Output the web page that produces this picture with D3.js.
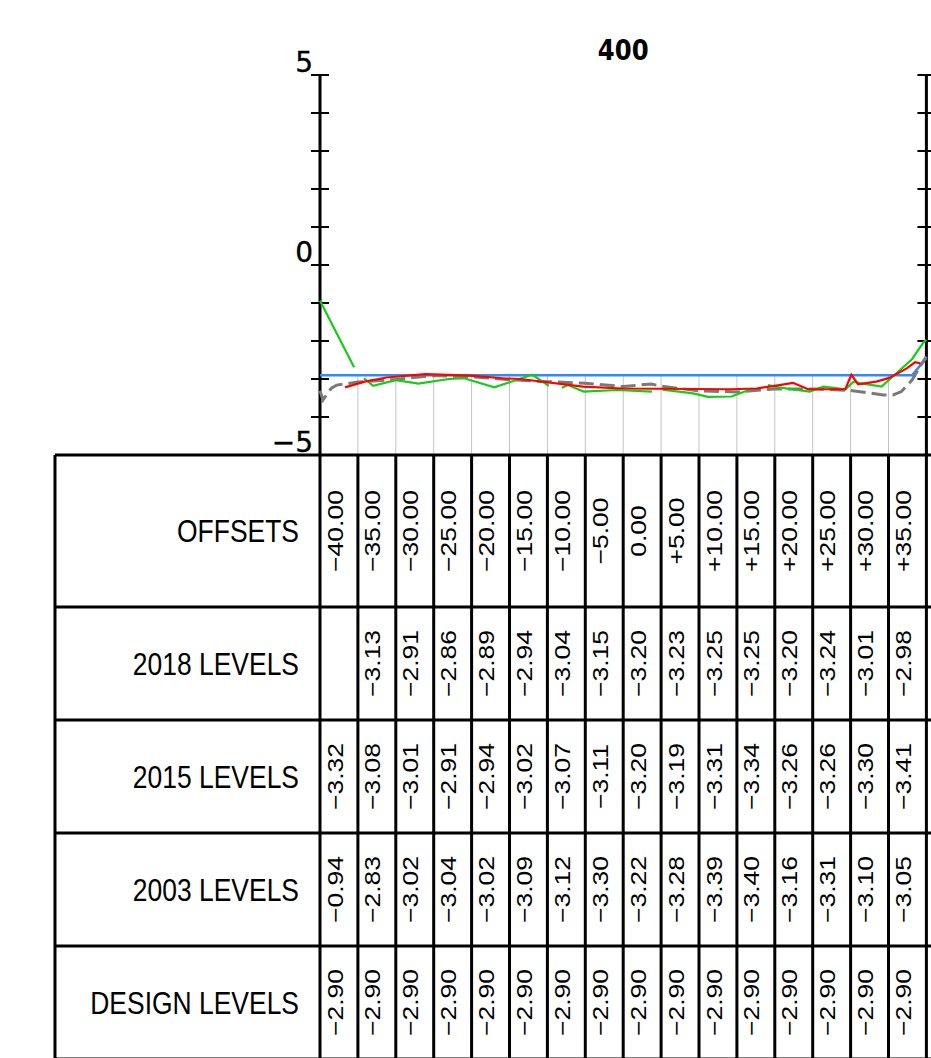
<!DOCTYPE html>
<html>
<head>
<meta charset="utf-8">
<script src="https://cdn.jsdelivr.net/npm/d3@7"></script>
<style>
  html, body { margin: 0; padding: 0; background: #fff; }
  svg { display: block; }
</style>
</head>
<body>
<div id="chart"></div>
<script>
// ---------- DATA ----------
const chainage = "400";
const yTicks = [-5, -4, -3, -2, -1, 0, 1, 2, 3, 4, 5];
const yTickLabels = {"5": "5", "0": "0", "-5": "\u22125"};
const offsets = [-40, -35, -30, -25, -20, -15, -10, -5, 0, 5, 10, 15, 20, 25, 30, 35, 40];
const levels2018 = [null, -3.13, -2.91, -2.86, -2.89, -2.94, -3.04, -3.15, -3.20, -3.23, -3.25, -3.25, -3.20, -3.24, -3.01, -2.98, null];
const levels2015 = [-3.32, -3.08, -3.01, -2.91, -2.94, -3.02, -3.07, -3.11, -3.20, -3.19, -3.31, -3.34, -3.26, -3.26, -3.30, -3.41, -2.41];
const levels2003 = [-0.94, -2.83, -3.02, -3.04, -3.02, -3.09, -3.12, -3.30, -3.22, -3.28, -3.39, -3.40, -3.16, -3.31, -3.10, -3.05, -2.01];
const designLevels = [-2.90, -2.90, -2.90, -2.90, -2.90, -2.90, -2.90, -2.90, -2.90, -2.90, -2.90, -2.90, -2.90, -2.90, -2.90, -2.90, -2.45];
const rowLabels = ["OFFSETS", "2018 LEVELS", "2015 LEVELS", "2003 LEVELS", "DESIGN LEVELS"];

// surveyed profiles [offset, level]; null = gap in survey line
const profileDesign = [[-40, -2.90], [38.1, -2.90], [40, -2.45]];
const profile2015 = [[-40, -3.31], [-39.6, -3.55], [-38.5, -3.24], [-37.8, -3.16], [-35, -3.08], [-30, -3.01], [-25, -2.91], [-20, -2.94], [-15, -3.02], [-10, -3.07], [-5, -3.11], [0, -3.20], [3.7, -3.13], [5, -3.19], [10, -3.31], [15, -3.34], [20, -3.26], [25, -3.26], [30, -3.30], [34.3, -3.42], [35.6, -3.42], [36.7, -3.33], [38.1, -3.03], [39.2, -2.66], [40, -2.41]];
const profile2003 = [[-40, -0.94], [-35.5, -2.69], null, [-34.2, -2.98], [-33.0, -3.18], [-30, -3.03], [-27, -3.12], [-23, -3.00], [-21, -2.98], [-17, -3.22], [-14.3, -3.04], [-12, -2.89], [-9.8, -3.18], null, [-8.1, -3.23], [-7.3, -3.16], [-5.2, -3.33], [-0.8, -3.29], [3.8, -3.33], null, [5.2, -3.28], [9.2, -3.38], [11.2, -3.47], [14.3, -3.46], [17.1, -3.25], null, [19.1, -3.16], [20.5, -3.22], [24.6, -3.33], [26.4, -3.20], [29.3, -3.27], [30.4, -3.07], [31.2, -3.11], [34.1, -3.20], [35.2, -3.00], [38.1, -2.48], [39.6, -2.04], [40, -1.97]];
const profile2018 = [[-36.7, -3.22], [-34.1, -3.07], [-31.2, -2.96], [-26.1, -2.87], [-23.1, -2.89], [-19.6, -2.92], [-16.0, -2.98], [-13.6, -3.00], [-5.3, -3.20], [-0.2, -3.25], [14.1, -3.27], [17.6, -3.25], [20, -3.18], [22.4, -3.10], [24.4, -3.27], [29.3, -3.27], [30.1, -2.89], [31.0, -3.14], [33.4, -3.07], [35.1, -2.97], [37.4, -2.72], [38.5, -2.56], [39.2, -2.59]];

// ---------- LAYOUT ----------
const W = 931, H = 1058;
const tableLeft = 55, tableTop = 455;
const headRowH = 152, rowH = 113;
const xScaleFactor = 0.84;
const tableFont = "'Liberation Sans', Arial, sans-serif";
const axisFont = "'DejaVu Sans', sans-serif";

const svg = d3.select("#chart").append("svg")
  .attr("width", W).attr("height", H)
  .style("background", "#fff");

const x = d3.scaleLinear().domain([-40, 40]).range([320, 926.4]);
const y = d3.scaleLinear().domain([-5, 5]).range([455, 75]);

// grid lines from design level down to datum
svg.append("g").selectAll("line")
  .data(offsets.slice(1, -1).map((o, i) => ({o, d: designLevels[i + 1]})))
  .join("line")
  .attr("x1", d => x(d.o)).attr("x2", d => x(d.o))
  .attr("y1", d => y(d.d)).attr("y2", y(-5))
  .attr("stroke", "#c4c4c4").attr("stroke-width", 1);

// axes (both sides)
[-40, 40].forEach(o => {
  const g = svg.append("g");
  g.append("line")
    .attr("x1", x(o)).attr("x2", x(o))
    .attr("y1", y(5)).attr("y2", y(-5))
    .attr("stroke", "#000").attr("stroke-width", 3);
  g.selectAll("line.tick").data(yTicks).join("line")
    .attr("class", "tick")
    .attr("x1", x(o) - 9).attr("x2", x(o) + 9)
    .attr("y1", d => y(d)).attr("y2", d => y(d))
    .attr("stroke", "#000").attr("stroke-width", 2);
});

svg.append("g").selectAll("text")
  .data(yTicks.filter(t => yTickLabels[String(t)] !== undefined))
  .join("text")
  .attr("transform", d => `translate(${x(-40) - 7},${y(d) - 3})`)
  .attr("text-anchor", "end")
  .attr("font-family", axisFont)
  .attr("font-size", 28)
  .attr("fill", "#000")
  .attr("stroke", "#000").attr("stroke-width", 0.35)
  .text(d => yTickLabels[String(d)]);

// title
svg.append("text")
  .attr("transform", `translate(${(x(-40) + x(40)) / 2},${60}) scale(${xScaleFactor},1)`)
  .attr("text-anchor", "middle")
  .attr("font-family", axisFont)
  .attr("font-weight", "bold")
  .attr("font-size", 29)
  .attr("fill", "#000")
  .text(chainage);

// profiles
const line = d3.line()
  .defined(d => d !== null)
  .x(d => x(d[0])).y(d => y(d[1]));

svg.append("path").datum(profileDesign).attr("d", line)
  .attr("fill", "none").attr("stroke", "#2f8cf5").attr("stroke-width", 2.5);
svg.append("path").datum(profile2015).attr("d", line)
  .attr("fill", "none").attr("stroke", "#7a7a7a").attr("stroke-width", 3)
  .attr("stroke-dasharray", "15,6");
svg.append("path").datum(profile2003).attr("d", line)
  .attr("fill", "none").attr("stroke", "#16cc16").attr("stroke-width", 2.2);
svg.append("path").datum(profile2018).attr("d", line)
  .attr("fill", "none").attr("stroke", "#ff0000").attr("stroke-width", 2.2);

// ---------- TABLE ----------
const rowTops = [tableTop];
rowTops.push(tableTop + headRowH);
for (let i = 2; i <= rowLabels.length; i++) rowTops.push(rowTops[i - 1] + rowH);

const fmtOffset = o => o === 0 ? "0.00" : (o > 0 ? "+" : "\u2212") + Math.abs(o).toFixed(2);
const fmtLevel = v => v === null ? "" : (v < 0 ? "\u2212" : "") + Math.abs(v).toFixed(2);

const rowValues = [
  offsets.map(fmtOffset),
  levels2018.map(fmtLevel),
  levels2015.map(fmtLevel),
  levels2003.map(fmtLevel),
  designLevels.map(fmtLevel)
];

const tg = svg.append("g");
// horizontal lines
tg.selectAll("line.h").data(rowTops).join("line").attr("class", "h")
  .attr("x1", tableLeft).attr("x2", W)
  .attr("y1", d => d).attr("y2", d => d)
  .attr("stroke", "#000").attr("stroke-width", 3);
// left border
tg.append("line")
  .attr("x1", tableLeft).attr("x2", tableLeft)
  .attr("y1", tableTop).attr("y2", H)
  .attr("stroke", "#000").attr("stroke-width", 3);
// column lines
tg.selectAll("line.v").data(offsets).join("line").attr("class", "v")
  .attr("x1", d => x(d)).attr("x2", d => x(d))
  .attr("y1", tableTop).attr("y2", H)
  .attr("stroke", "#000").attr("stroke-width", 3);

// row labels
tg.selectAll("text.lab").data(rowLabels).join("text").attr("class", "lab")
  .attr("transform", (d, i) => `translate(299,${(rowTops[i] + rowTops[i + 1]) / 2 + 11}) scale(${xScaleFactor},1)`)
  .attr("text-anchor", "end")
  .attr("font-family", tableFont)
  .attr("font-size", 31.5)
  .attr("fill", "#000")
  .text(d => d);

// cell values
rowValues.forEach((vals, r) => {
  const cy = (rowTops[r] + rowTops[r + 1]) / 2;
  tg.append("g").selectAll("text").data(vals.map((v, i) => ({v, o: offsets[i]})))
    .join("text")
    .attr("transform", d => `translate(${x(d.o) + 22.5},${cy}) scale(${xScaleFactor},1) rotate(-90)`)
    .attr("text-anchor", "middle")
    .attr("font-family", tableFont)
    .attr("font-size", 26.5)
    .attr("fill", "#000")
    .text(d => d.v);
});
</script>
</body>
</html>
